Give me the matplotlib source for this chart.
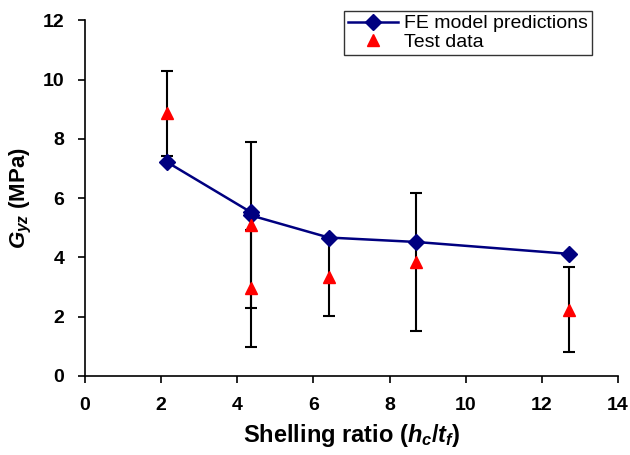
import numpy as np
import matplotlib.pyplot as plt

plt.rcParams['font.family'] = ['Liberation Sans', 'DejaVu Sans']
plt.rcParams['mathtext.fontset'] = 'custom'
plt.rcParams['mathtext.rm'] = 'Liberation Sans:bold'
plt.rcParams['mathtext.it'] = 'Liberation Sans:bold:italic'
plt.rcParams['mathtext.bf'] = 'Liberation Sans:bold'

# FE model predictions
fe_x = [2.15, 4.35, 4.35, 6.4, 8.7, 12.7]
fe_y = [7.22, 5.53, 5.42, 4.67, 4.52, 4.12]

# Test data with error bars (+/-)
test_x = [2.15, 4.35, 4.35, 6.4, 8.7, 12.7]
test_y = [8.87, 5.10, 2.96, 3.35, 3.84, 2.23]
test_err = [1.44, 2.81, 1.97, 1.33, 2.34, 1.43]

x_ticks = [0, 2, 4, 6, 8, 10, 12, 14]
y_ticks = [0, 2, 4, 6, 8, 10, 12]

fig = plt.figure(figsize=(6.3, 4.55), dpi=100)
ax = fig.add_axes([0.135, 0.174, 0.846, 0.781])

ax.errorbar(test_x, test_y, yerr=test_err, fmt="none", ecolor="black",
            elinewidth=1.5, capsize=4, capthick=1.5, zorder=2)
ax.plot(fe_x, fe_y, color="#000080", lw=1.8, marker="D", markersize=8,
        label="FE model predictions", zorder=3)
ax.plot(test_x, test_y, ls="none", marker="^", color="red", markersize=9,
        label="Test data", zorder=4)

ax.set_xlim(0, 14)
ax.set_ylim(0, 12)
ax.set_xticks(x_ticks)
ax.set_yticks(y_ticks)
ax.tick_params(axis="both", labelsize=14, direction="out", length=5, width=1.2)
for lab in ax.get_xticklabels() + ax.get_yticklabels():
    lab.set_fontweight("bold")
ax.tick_params(axis="x", pad=10)
ax.tick_params(axis="y", pad=10)

for side in ["top", "right"]:
    ax.spines[side].set_visible(False)
for side in ["left", "bottom"]:
    ax.spines[side].set_linewidth(1.2)

ax.set_xlabel("Shelling ratio ($h_c$/$t_f$)", fontsize=17, fontweight="bold", labelpad=6)
ax.set_ylabel("$G_{yz}$ (MPa)", fontsize=16, fontweight="bold", labelpad=6)

leg = ax.legend(loc="upper right", bbox_to_anchor=(0.951, 1.027), borderaxespad=0,
                fancybox=False, framealpha=1, edgecolor="#333333", fontsize=14,
                handlelength=2.6, handletextpad=0.3, labelspacing=0.05, borderpad=0.2)
leg.get_frame().set_linewidth(1.0)

fig.savefig("out.png", dpi=100)
